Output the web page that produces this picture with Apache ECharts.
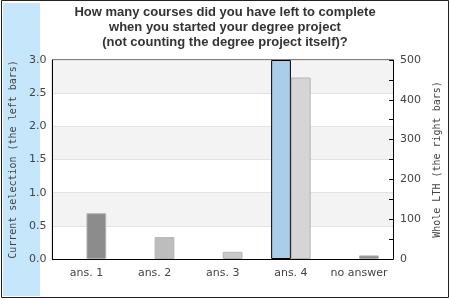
<!DOCTYPE html>
<html>
<head>
<meta charset="utf-8">
<script src="https://cdn.jsdelivr.net/npm/echarts@6/dist/echarts.min.js"></script>
<style>html,body{margin:0;padding:0;background:#fff}#c{width:450px;height:300px}</style>
</head>
<body>
<div id="c"></div>
<script>
var categories = ['ans. 1', 'ans. 2', 'ans. 3', 'ans. 4', 'no answer'];
var currentSelection = [0, 0, 0, 3, 0];
var wholeLTH = [115, 55, 18, 456, 9];
var wholeColors = ['#8c8c8c', '#bdbdbd', '#c9c9c9', '#d5d5d5', '#8c8c8c'];
var titleText = 'How many courses did you have left to complete\nwhen you started your degree project\n(not counting the degree project itself)?';

var chart = echarts.init(document.getElementById('c'), null, {renderer: 'canvas'});
chart.setOption({
  animation: false,
  backgroundColor: '#fff',
  title: {
    text: titleText, left: 'center', top: 5, padding: 0,
    textStyle: {fontFamily: 'Liberation Sans, Arial, sans-serif', fontWeight: 'bold', fontSize: 13, lineHeight: 15, color: '#333'}
  },
  graphic: [
    {type: 'rect', z: -10, shape: {x: 3, y: 3, width: 37, height: 293}, style: {fill: '#c6e6fb'}},
    {type: 'rect', z: 100, shape: {x: 1.5, y: 0.5, width: 447, height: 297}, style: {fill: null, stroke: '#222', lineWidth: 1}}
  ],
  grid: {left: 40, right: 52, top: 60, bottom: 41, show: true, borderColor: '#000', borderWidth: 1, backgroundColor: '#fff', containLabel: false},
  xAxis: {
    type: 'category', data: categories,
    axisLine: {lineStyle: {color: '#000', width: 1}},
    axisTick: {show: false},
    axisLabel: {color: '#444', fontFamily: 'DejaVu Sans', fontSize: 11, margin: 9, interval: 0}
  },
  yAxis: [
    {
      type: 'value', min: 0, max: 3, interval: 0.5, position: 'left',
      name: 'Current selection (the left bars)', nameLocation: 'middle', nameGap: 29, nameRotate: 90,
      nameTextStyle: {fontFamily: 'DejaVu Sans Mono', fontSize: 10, color: '#444'},
      axisLine: {show: true, lineStyle: {color: '#000'}},
      axisTick: {show: false},
      axisLabel: {color: '#444', fontFamily: 'DejaVu Sans', fontSize: 11, margin: 6, formatter: function (v) { return v.toFixed(1); }},
      splitLine: {show: true, lineStyle: {color: '#e2e2e2'}},
      splitArea: {show: true, areaStyle: {color: ['#ffffff', '#f3f3f3']}}
    },
    {
      type: 'value', min: 0, max: 500, interval: 100, position: 'right',
      name: 'Whole LTH (the right bars)', nameLocation: 'middle', nameGap: 22, nameRotate: 90,
      nameTextStyle: {fontFamily: 'DejaVu Sans Mono', fontSize: 10, color: '#444'},
      axisLine: {show: true, lineStyle: {color: '#000'}},
      axisTick: {show: true, inside: true, length: 4, lineStyle: {color: '#000'}},
      minorTick: {show: true, splitNumber: 2, length: 4, lineStyle: {color: '#000'}},
      axisLabel: {color: '#444', fontFamily: 'DejaVu Sans', fontSize: 11, margin: 7},
      splitLine: {show: false}
    }
  ],
  series: [
    {
      type: 'bar', yAxisIndex: 0,
      data: currentSelection.map(function (v) { return {value: v, itemStyle: {borderWidth: v > 0 ? 1 : 0}}; }),
      barGap: 0, barCategoryGap: '42%',
      itemStyle: {color: '#aacde9', borderColor: '#000', borderWidth: 1}
    },
    {
      type: 'bar', yAxisIndex: 1,
      data: wholeLTH.map(function (v, i) { return {value: v, itemStyle: {color: wholeColors[i]}}; }),
      barGap: 0, barCategoryGap: '42%',
      itemStyle: {borderColor: '#b4b4b4', borderWidth: 1}
    }
  ]
});
</script>
</body>
</html>
